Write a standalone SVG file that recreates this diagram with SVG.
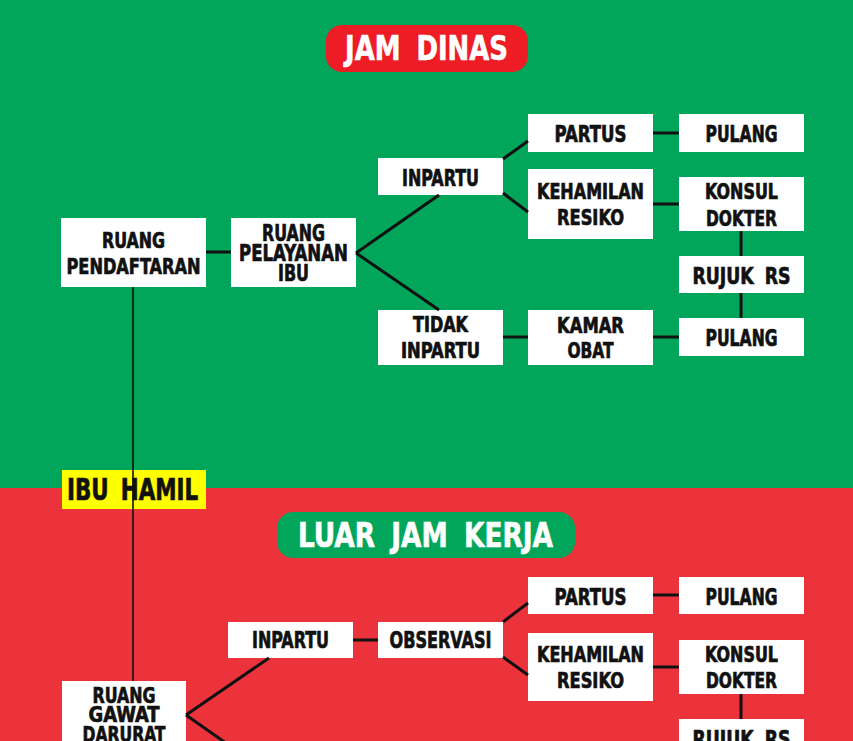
<svg xmlns="http://www.w3.org/2000/svg" width="853" height="741" viewBox="0 0 853 741">
<style>
.box{fill:#ffffff}
.t{font-family:"DejaVu Sans Condensed","DejaVu Sans",sans-serif;font-weight:bold;font-stretch:condensed;fill:#111111;stroke:#111111;stroke-width:0.7;text-anchor:middle;font-size:23px}
.t2{font-size:21.5px}
.w{fill:#ffffff;stroke:#ffffff;stroke-width:0.6;font-size:33px;word-spacing:8px}
.ln{stroke:#111111;stroke-width:3;fill:none}
.thin{stroke:#111111;stroke-width:1.6;fill:none}
</style>
<rect x="0" y="0" width="853" height="489" fill="#02A65B"/>
<rect x="0" y="488" width="853" height="253" fill="#EC333B"/>

<g id="title-jam-dinas">
<rect x="326" y="25" width="202" height="47" rx="16" fill="#EE1C24"/>
<text class="t w" x="426.5" y="60" textLength="163" lengthAdjust="spacingAndGlyphs">JAM DINAS</text>
</g>
<g id="title-luar-jam-kerja">
<rect x="277" y="512" width="298" height="46" rx="16" fill="#02A65B"/>
<text class="t w" x="425.5" y="547" textLength="255" lengthAdjust="spacingAndGlyphs">LUAR JAM KERJA</text>
</g>

<g id="ibu-hamil">
<rect x="62" y="470" width="144" height="39" fill="#FFFF00"/>
<text class="t" style="font-size:30px;word-spacing:6px" x="132.5" y="500" textLength="131" lengthAdjust="spacingAndGlyphs">IBU HAMIL</text>
</g>

<g id="ruang-pendaftaran">
<rect class="box" x="61" y="218" width="145" height="69"/>
<text class="t t2" x="133.5" y="248" textLength="63" lengthAdjust="spacingAndGlyphs">RUANG</text>
<text class="t t2" x="133.5" y="274" textLength="134" lengthAdjust="spacingAndGlyphs">PENDAFTARAN</text>
</g>
<g id="ruang-pelayanan-ibu">
<rect class="box" x="231" y="218" width="125" height="69"/>
<text class="t" x="293.5" y="241" textLength="63" lengthAdjust="spacingAndGlyphs">RUANG</text>
<text class="t" x="293.5" y="261" textLength="109" lengthAdjust="spacingAndGlyphs">PELAYANAN</text>
<text class="t" x="293.5" y="281" textLength="31" lengthAdjust="spacingAndGlyphs">IBU</text>
</g>
<g id="inpartu-1">
<rect class="box" x="378" y="158" width="125" height="37"/>
<text class="t" x="440.5" y="186" textLength="77" lengthAdjust="spacingAndGlyphs">INPARTU</text>
</g>
<g id="tidak-inpartu">
<rect class="box" x="378" y="310" width="125" height="55"/>
<text class="t t2" x="440.5" y="332" textLength="55" lengthAdjust="spacingAndGlyphs">TIDAK</text>
<text class="t t2" x="440.5" y="358" textLength="79" lengthAdjust="spacingAndGlyphs">INPARTU</text>
</g>
<g id="partus-1">
<rect class="box" x="528" y="114" width="125" height="38"/>
<text class="t" x="590.5" y="142" textLength="72" lengthAdjust="spacingAndGlyphs">PARTUS</text>
</g>
<g id="pulang-1">
<rect class="box" x="679" y="114" width="125" height="38"/>
<text class="t" x="741.5" y="142" textLength="72" lengthAdjust="spacingAndGlyphs">PULANG</text>
</g>
<g id="kehamilan-resiko-1">
<rect class="box" x="528" y="169" width="125" height="70"/>
<text class="t t2" x="590.5" y="199" textLength="107" lengthAdjust="spacingAndGlyphs">KEHAMILAN</text>
<text class="t t2" x="590.5" y="225" textLength="67" lengthAdjust="spacingAndGlyphs">RESIKO</text>
</g>
<g id="konsul-dokter-1">
<rect class="box" x="679" y="177" width="125" height="54"/>
<text class="t t2" x="741.5" y="199" textLength="73" lengthAdjust="spacingAndGlyphs">KONSUL</text>
<text class="t t2" x="741.5" y="226" textLength="71" lengthAdjust="spacingAndGlyphs">DOKTER</text>
</g>
<g id="rujuk-rs-1">
<rect class="box" x="679" y="256" width="125" height="37"/>
<text class="t" style="word-spacing:6px" x="741.5" y="284" textLength="98" lengthAdjust="spacingAndGlyphs">RUJUK RS</text>
</g>
<g id="kamar-obat">
<rect class="box" x="528" y="310" width="125" height="55"/>
<text class="t t2" x="590.5" y="333" textLength="67" lengthAdjust="spacingAndGlyphs">KAMAR</text>
<text class="t t2" x="590.5" y="358" textLength="46" lengthAdjust="spacingAndGlyphs">OBAT</text>
</g>
<g id="pulang-2">
<rect class="box" x="679" y="318" width="125" height="38"/>
<text class="t" x="741.5" y="346" textLength="72" lengthAdjust="spacingAndGlyphs">PULANG</text>
</g>

<g id="ruang-gawat-darurat">
<rect class="box" x="62" y="681" width="124" height="80"/>
<text class="t t2" x="124" y="703" textLength="63" lengthAdjust="spacingAndGlyphs">RUANG</text>
<text class="t t2" x="124" y="722" textLength="71" lengthAdjust="spacingAndGlyphs">GAWAT</text>
<text class="t t2" x="124" y="742" textLength="83" lengthAdjust="spacingAndGlyphs">DARURAT</text>
</g>
<g id="inpartu-2">
<rect class="box" x="228" y="622" width="125" height="36"/>
<text class="t" x="290.5" y="648" textLength="77" lengthAdjust="spacingAndGlyphs">INPARTU</text>
</g>
<g id="observasi">
<rect class="box" x="378" y="622" width="125" height="36"/>
<text class="t" x="440.5" y="648" textLength="102" lengthAdjust="spacingAndGlyphs">OBSERVASI</text>
</g>
<g id="partus-2">
<rect class="box" x="528" y="577" width="125" height="37"/>
<text class="t" x="590.5" y="605" textLength="72" lengthAdjust="spacingAndGlyphs">PARTUS</text>
</g>
<g id="pulang-3">
<rect class="box" x="679" y="577" width="125" height="37"/>
<text class="t" x="741.5" y="605" textLength="72" lengthAdjust="spacingAndGlyphs">PULANG</text>
</g>
<g id="kehamilan-resiko-2">
<rect class="box" x="528" y="633" width="125" height="68"/>
<text class="t t2" x="590.5" y="662" textLength="107" lengthAdjust="spacingAndGlyphs">KEHAMILAN</text>
<text class="t t2" x="590.5" y="688" textLength="67" lengthAdjust="spacingAndGlyphs">RESIKO</text>
</g>
<g id="konsul-dokter-2">
<rect class="box" x="679" y="640" width="125" height="54"/>
<text class="t t2" x="741.5" y="662" textLength="73" lengthAdjust="spacingAndGlyphs">KONSUL</text>
<text class="t t2" x="741.5" y="688" textLength="71" lengthAdjust="spacingAndGlyphs">DOKTER</text>
</g>
<g id="rujuk-rs-2">
<rect class="box" x="679" y="719" width="125" height="37"/>
<text class="t" style="word-spacing:6px" x="741.5" y="747" textLength="98" lengthAdjust="spacingAndGlyphs">RUJUK RS</text>
</g>

<g id="connectors">
<line class="thin" x1="133" y1="287" x2="133" y2="681"/>
<line class="ln" x1="206" y1="252" x2="231" y2="252"/>
<line class="ln" x1="356" y1="253" x2="439" y2="195"/>
<line class="ln" x1="356" y1="253" x2="439" y2="310"/>
<line class="ln" x1="503" y1="159" x2="528" y2="141"/>
<line class="ln" x1="503" y1="193" x2="528" y2="212"/>
<line class="ln" x1="653" y1="133" x2="679" y2="133"/>
<line class="ln" x1="653" y1="204" x2="679" y2="204"/>
<line class="ln" x1="741" y1="231" x2="741" y2="256"/>
<line class="ln" x1="741" y1="293" x2="741" y2="318"/>
<line class="ln" x1="503" y1="337" x2="528" y2="337"/>
<line class="ln" x1="653" y1="337" x2="679" y2="337"/>
<line class="ln" x1="186" y1="715" x2="269" y2="658"/>
<line class="ln" x1="186" y1="715" x2="250" y2="760"/>
<line class="ln" x1="353" y1="640" x2="378" y2="640"/>
<line class="ln" x1="503" y1="622" x2="528" y2="603"/>
<line class="ln" x1="503" y1="657" x2="528" y2="675"/>
<line class="ln" x1="653" y1="595" x2="679" y2="595"/>
<line class="ln" x1="653" y1="667" x2="679" y2="667"/>
<line class="ln" x1="741" y1="694" x2="741" y2="719"/>
</g>
</svg>
